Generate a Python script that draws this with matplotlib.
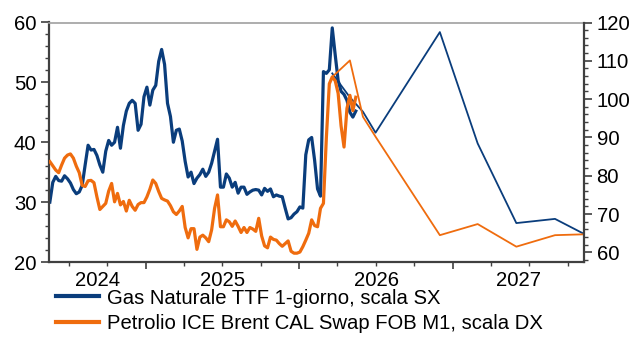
import matplotlib
matplotlib.use('Agg')
import matplotlib.pyplot as plt
import matplotlib.dates as mdates
import pandas as pd
from matplotlib.lines import Line2D
from matplotlib.ticker import MultipleLocator, NullFormatter

plt.rcParams['font.family'] = ['Liberation Sans', 'DejaVu Sans']

# ---------------- data ----------------
hist_start = '2024-05-17'   # weekly observations
gas_hist = [
    30.0, 33.3, 34.3, 33.6, 33.5, 34.4, 33.9, 33.2, 32.1, 31.4,
    31.7, 32.8, 36.2, 39.5, 38.7, 38.8, 37.8, 36.2, 35.0, 38.5,
    40.3, 39.5, 40.0, 42.5, 39.0, 42.8, 45.2, 46.5, 47.0, 46.5,
    42.0, 43.0, 47.6, 49.2, 46.2, 48.7, 49.5, 53.5, 55.5, 53.0,
    46.5, 44.3, 40.0, 42.0, 42.2, 40.2, 36.8, 34.2, 35.0, 33.1,
    34.0, 34.6, 35.5, 34.3, 35.0, 36.5, 38.5, 40.5, 32.5, 32.5,
    34.7, 34.0, 32.5, 33.3, 31.5, 32.5, 32.5, 31.3, 31.7, 32.0,
    32.1, 32.0, 31.2, 32.3, 31.8, 32.2, 30.9, 31.2, 31.0, 30.9,
    29.0, 27.2, 27.4, 28.0, 28.4, 29.2, 29.0, 37.9, 40.4, 40.8,
    37.0, 32.2, 31.0, 51.8, 51.5, 52.1, 59.1, 54.6, 50.3, 48.5,
    48.0, 47.0, 45.0, 44.2, 45.2]
brent_hist = [
    83.7, 82.6, 81.5, 80.8, 82.8, 84.6, 85.4, 85.7, 84.6, 82.5,
    80.8, 77.5, 77.2, 78.7, 78.8, 78.2, 74.5, 71.2, 72.0, 72.8,
    76.0, 78.0, 73.2, 75.4, 72.4, 73.3, 70.8, 73.6, 72.0, 71.0,
    72.5, 73.0, 73.0, 74.5, 76.5, 78.9, 78.0, 75.9, 74.1, 73.7,
    73.4, 72.2, 70.6, 69.9, 70.8, 72.0, 66.5, 63.8, 66.2, 66.2,
    60.8, 64.0, 64.5, 63.8, 62.8, 65.9, 71.5, 75.0, 66.7, 66.7,
    68.5, 68.0, 66.8, 68.2, 66.8, 65.2, 66.5, 65.2, 66.5, 66.1,
    65.5, 68.9, 64.3, 61.7, 61.2, 64.0, 63.4, 63.2, 62.3, 61.6,
    62.3, 63.0, 60.3, 59.8, 59.8, 60.1, 61.5, 63.2, 65.0, 68.5,
    67.0, 66.7, 71.5, 72.8, 90.0, 104.0, 105.8, 104.8, 101.5, 93.0,
    87.5, 97.6, 101.0, 97.0, 100.5]

fc_dates = ['2026-03-20', '2026-05-01', '2026-06-01', '2026-07-01', '2026-12-01',
            '2027-03-01', '2027-06-01', '2027-09-01', '2027-12-01']
gas_fc = [51.5, 47.5, 45.1, 41.6, 58.4, 39.8, 26.5, 27.2, 23.9]
brent_fc = [105.8, 110.1, 95.4, 90.2, 64.5, 67.4, 61.5, 64.5, 64.8]

years = [2024, 2025, 2026, 2027]
labels = ['Gas Naturale TTF 1-giorno, scala SX',
          'Petrolio ICE Brent CAL Swap FOB M1, scala DX']

BLUE = '#0A3D7C'
ORANGE = '#EF6C0E'
DARK = '#404040'
FS = 14.6

hist_dates = pd.date_range(hist_start, periods=len(gas_hist), freq='7D')
fc_dt = pd.to_datetime(fc_dates)

# ---------------- figure ----------------
fig = plt.figure(figsize=(6.37, 3.43), dpi=100)
ax = fig.add_axes([49/637, 1-262/343, (584-49)/637, (262-22.5)/343])
ax2 = ax.twinx()

ax.plot(hist_dates, gas_hist, color=BLUE, lw=2.3, solid_joinstyle='round')
ax.plot(fc_dt, gas_fc, color=BLUE, lw=1.3)
ax2.plot(hist_dates, brent_hist, color=ORANGE, lw=2.3, solid_joinstyle='round')
ax2.plot(fc_dt, brent_fc, color=ORANGE, lw=1.3)

xmin, xmax = pd.Timestamp('2024-05-15'), pd.Timestamp('2027-11-09')
ax.set_xlim(xmin, xmax)
ax.set_ylim(20, 60)
ax2.set_ylim(57.5, 120)

# y axes
for a in (ax, ax2):
    a.yaxis.set_major_locator(MultipleLocator(10))
    a.yaxis.set_minor_locator(MultipleLocator(2))
    a.tick_params(axis='y', which='major', direction='out', length=6,
                  width=1.2, color=DARK, labelsize=FS, pad=3)
    a.tick_params(axis='y', which='minor', direction='out', length=3,
                  width=1.0, color=DARK)

# x axis
ax.set_xticks(pd.to_datetime([f'{y}-01-01' for y in years[1:]]))
ax.set_xticks(pd.date_range('2024-07-01', '2027-10-01', freq='QS'), minor=True)
ax.xaxis.set_major_formatter(NullFormatter())
ax.tick_params(axis='x', which='major', direction='out', length=5, width=1.2, color=DARK)
ax.tick_params(axis='x', which='minor', direction='out', length=3, width=1.0, color=DARK)

x0, x1 = mdates.date2num(xmin), mdates.date2num(xmax)
for y in years:
    s = max(mdates.date2num(pd.Timestamp(f'{y}-01-01')), x0)
    e = min(mdates.date2num(pd.Timestamp(f'{y+1}-01-01')), x1)
    ax.text((s + e) / 2, -24.3/239.5, str(y), transform=ax.get_xaxis_transform(),
            ha='center', va='baseline', fontsize=FS, color='black')

# spines
ax.spines['top'].set_color('#A0A0A0')
ax.spines['top'].set_linewidth(1.2)
ax.spines['left'].set_color(DARK)
ax.spines['left'].set_linewidth(1.6)
ax.spines['bottom'].set_color(DARK)
ax.spines['bottom'].set_linewidth(1.6)
ax.spines['right'].set_visible(False)
ax2.spines['right'].set_color(DARK)
ax2.spines['right'].set_linewidth(1.6)
for s in ('left', 'top', 'bottom'):
    ax2.spines[s].set_visible(False)

# legend
handles = [Line2D([], [], color=BLUE, lw=3), Line2D([], [], color=ORANGE, lw=3)]
fig.legend(handles, labels, loc='upper left', bbox_to_anchor=(56/637, 1-288.5/343),
           frameon=False, fontsize=FS, handlelength=2.1, handletextpad=0.4,
           labelspacing=0.32, borderpad=0, borderaxespad=0)

fig.savefig('out.png', dpi=100)
